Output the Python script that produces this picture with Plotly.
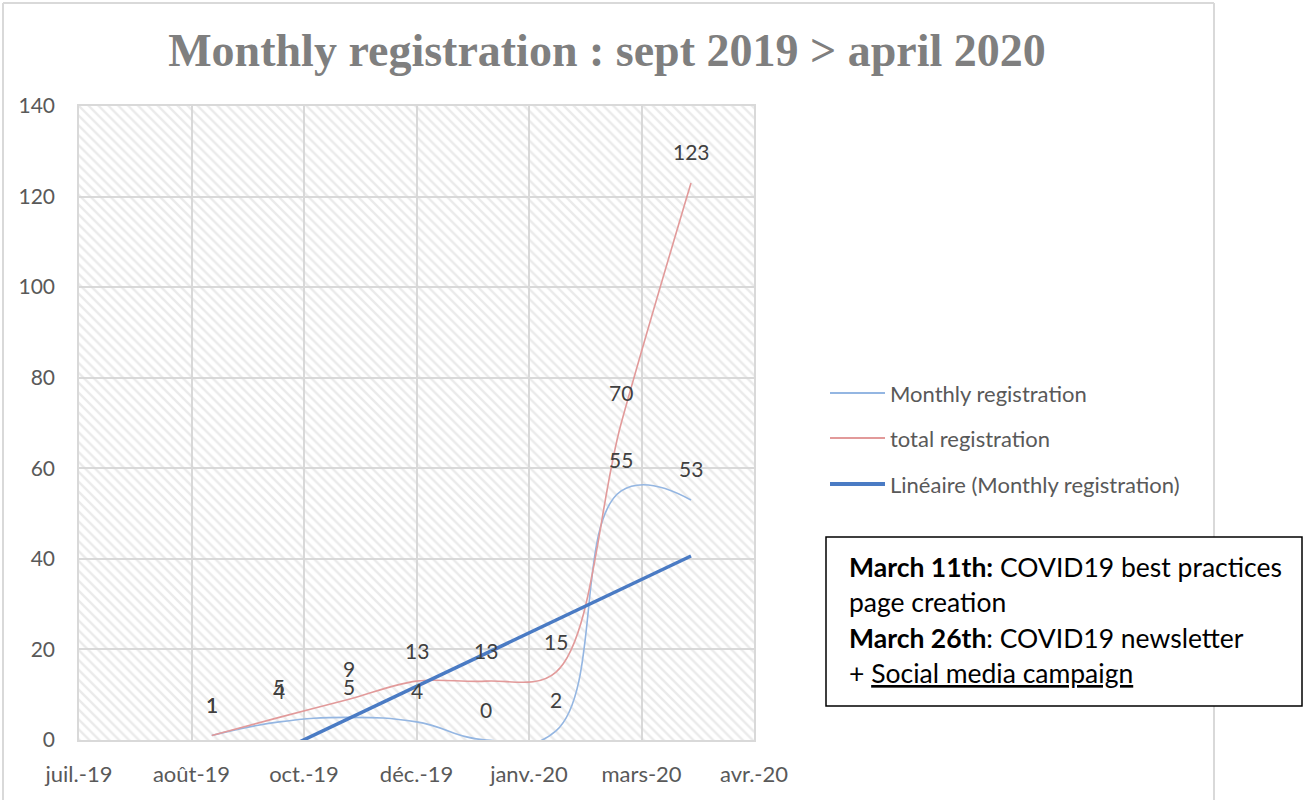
import numpy as np
import pandas as pd
import plotly.graph_objects as go

# ---------------- data ----------------
months = ["2019-09-01", "2019-10-01", "2019-11-01", "2019-12-01",
          "2020-01-01", "2020-02-01", "2020-03-01", "2020-04-01"]
monthly_registration = [1, 4, 5, 4, 0, 2, 55, 53]
total_registration = [1, 5, 9, 13, 13, 15, 70, 123]

x_tick_dates = ["2019-07-04", "2019-08-23", "2019-10-12", "2019-12-01",
                "2020-01-20", "2020-03-10", "2020-04-29"]
x_tick_labels = ["juil.-19", "août-19", "oct.-19", "déc.-19",
                 "janv.-20", "mars-20", "avr.-20"]
y_ticks = [0, 20, 40, 60, 80, 100, 120, 140]

series_names = ["Monthly registration", "total registration",
                "Linéaire (Monthly registration)"]
title_text = "Monthly registration : sept 2019 > april 2020"
note_lines = [
    "<b>March 11th:</b> COVID19 best practices",
    "page creation",
    "<b>March 26th</b>: COVID19 newsletter",
    "+ <span style='text-decoration:underline'>Social media campaign</span>",
]

# ---------------- layout geometry (pixels) ----------------
W, H = 1306, 800
PL, PR, PT, PB = 79, 754, 106, 740


def px_x(px):
    return (px - PL) / (PR - PL)


def px_y(py):
    return (PB - py) / (PB - PT)


# linear trend (Excel "Linéaire") on the monthly series
d = pd.to_datetime(months)
xd = (d - d[0]).days.values.astype(float)
slope, intercept = np.polyfit(xd, np.array(monthly_registration, float), 1)
trend = slope * xd + intercept

FONT = "Lato, 'Open Sans', sans-serif"
GRID = "#D9D9D9"
TXT = "#595959"
C_MONTHLY = "#94B6E2"
C_TOTAL = "#E29A9A"
C_TREND = "#4A7BC4"

fig = go.Figure()

# hatched plot-area background
fig.add_trace(go.Scatter(
    x=[x_tick_dates[0], x_tick_dates[-1], x_tick_dates[-1], x_tick_dates[0], x_tick_dates[0]],
    y=[y_ticks[0], y_ticks[0], y_ticks[-1], y_ticks[-1], y_ticks[0]],
    mode="none", fill="toself", fillcolor="rgba(0,0,0,0)",
    fillpattern=dict(shape="\\", size=7, solidity=0.35, fgcolor="#D6D6D6",
                     bgcolor="rgba(255,255,255,0)", fillmode="overlay"),
    showlegend=False, hoverinfo="skip"))

fig.add_trace(go.Scatter(
    x=months, y=monthly_registration, mode="lines", name=series_names[0],
    line=dict(color=C_MONTHLY, width=1.6, shape="spline", smoothing=1.25)))
fig.add_trace(go.Scatter(
    x=months, y=total_registration, mode="lines", name=series_names[1],
    line=dict(color=C_TOTAL, width=1.6, shape="spline", smoothing=1.0)))
fig.add_trace(go.Scatter(
    x=months, y=trend, mode="lines", name=series_names[2],
    line=dict(color=C_TREND, width=3.5)))

annotations = []
for series in (monthly_registration, total_registration):
    for xv, yv in zip(months, series):
        annotations.append(dict(
            x=xv, y=yv, xref="x", yref="y", text=str(yv), showarrow=False,
            yshift=31, font=dict(family=FONT, size=21, color="#404040")))

shapes = [
    # chart-area border (top, left, right edges)
    dict(type="line", xref="paper", yref="paper",
         x0=px_x(3), x1=px_x(1214), y0=px_y(3), y1=px_y(3),
         line=dict(color="#D9D9D9", width=2), layer="above"),
    dict(type="line", xref="paper", yref="paper",
         x0=px_x(3), x1=px_x(3), y0=px_y(3), y1=px_y(800),
         line=dict(color="#D9D9D9", width=2), layer="above"),
    dict(type="line", xref="paper", yref="paper",
         x0=px_x(1214), x1=px_x(1214), y0=px_y(3), y1=px_y(800),
         line=dict(color="#D9D9D9", width=2), layer="above"),
    # note box
    dict(type="rect", xref="paper", yref="paper",
         x0=px_x(826), x1=px_x(1302), y0=px_y(706), y1=px_y(537),
         line=dict(color="#000000", width=1.5), fillcolor="#FFFFFF", layer="above"),
]

# manual legend (long line samples as in the reference)
legend_y = [393, 438, 484]
legend_style = [(C_MONTHLY, 2), (C_TOTAL, 2), (C_TREND, 4)]
for name, yy, (col, wd) in zip(series_names, legend_y, legend_style):
    shapes.append(dict(type="line", xref="paper", yref="paper",
                       x0=px_x(830), x1=px_x(885), y0=px_y(yy), y1=px_y(yy),
                       line=dict(color=col, width=wd)))
    annotations.append(dict(
        x=px_x(888), y=px_y(yy), xref="paper", yref="paper", text=name,
        showarrow=False, xanchor="left", yanchor="middle",
        font=dict(family=FONT, size=22, color=TXT)))

# note box text
line_y = [567, 602, 638, 673]
for t, yy in zip(note_lines, line_y):
    annotations.append(dict(
        x=px_x(847), y=px_y(yy), xref="paper", yref="paper", text=t,
        showarrow=False, xanchor="left", yanchor="middle", align="left",
        font=dict(family=FONT, size=26.5, color="#000000")))

fig.update_layout(
    width=W, height=H,
    margin=dict(l=PL, r=W - PR, t=PT, b=H - PB, autoexpand=False),
    paper_bgcolor="white", plot_bgcolor="white",
    showlegend=False,
    title=dict(text=title_text, xref="paper", x=px_x(607), xanchor="center",
               yref="container", y=1 - 50 / H, yanchor="middle",
               font=dict(family="'Liberation Serif', serif", size=46,
                         color="#7F7F7F", weight="bold")),
    xaxis=dict(type="date", range=[x_tick_dates[0], x_tick_dates[-1]],
               tickmode="array", tickvals=x_tick_dates, ticktext=x_tick_labels,
               showgrid=True, gridcolor=GRID, gridwidth=1.5,
               showline=True, linecolor=GRID, linewidth=1.5, mirror=True,
               ticks="", ticklabelstandoff=14,
               tickfont=dict(family=FONT, size=22, color=TXT)),
    yaxis=dict(range=[y_ticks[0], y_ticks[-1]], tickmode="array", tickvals=y_ticks,
               showgrid=True, gridcolor=GRID, gridwidth=1.5, zeroline=False,
               showline=True, linecolor=GRID, linewidth=1.5, mirror=True,
               ticks="", ticklabelstandoff=18,
               tickfont=dict(family=FONT, size=21, color=TXT)),
    annotations=annotations, shapes=shapes,
)

fig.write_html("out.html", config={"displayModeBar": False},
               post_script="document.body.style.margin='0';")
